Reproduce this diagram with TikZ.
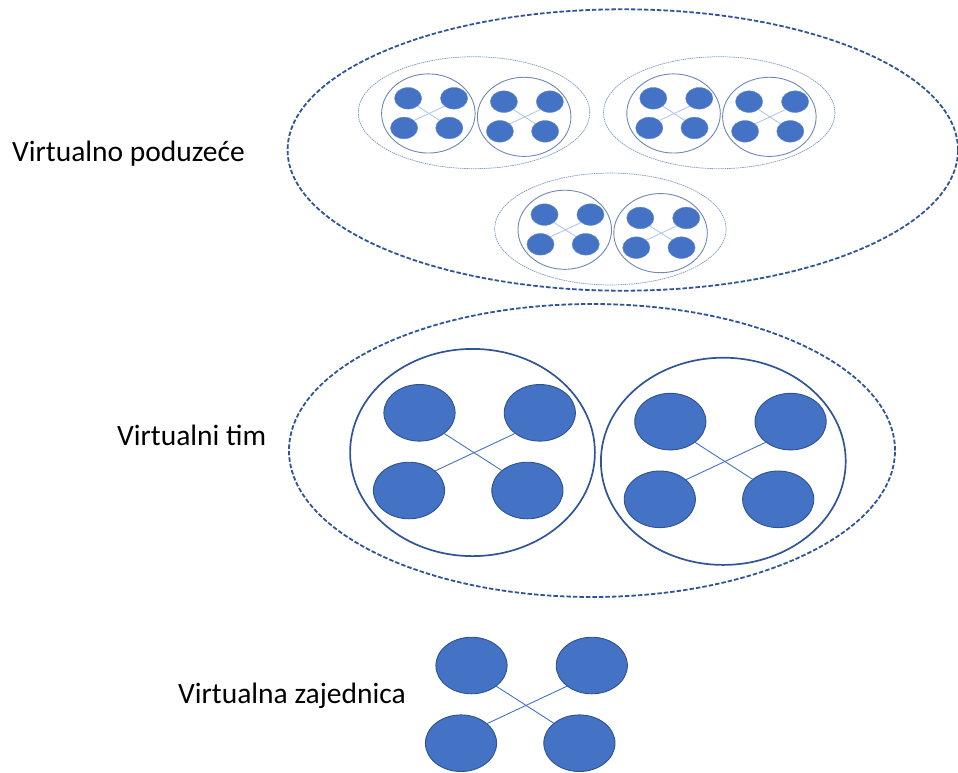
\documentclass[tikz,border=0pt]{standalone}
\usepackage{fontspec}
\setmainfont{Carlito}
\usetikzlibrary{shapes.geometric}
\definecolor{vblue}{HTML}{4472C4}
\definecolor{vedge}{HTML}{2F528F}
\definecolor{vdark}{HTML}{2F5597}
\definecolor{vlight}{HTML}{B4C7E7}
\tikzset{
  member/.style={ellipse, inner sep=0pt, outer sep=0pt, minimum width=71.2pt, minimum height=56.6pt,
    fill=vblue, draw=vedge, line width=0.9pt},
  link/.style={draw=vblue, line width=0.9pt},
  teamc/.style={ellipse, inner sep=0pt, outer sep=0pt, minimum width=244.8pt, minimum height=207.2pt,
    draw=vdark, line width=1.7pt},
  grpell/.style={ellipse, inner sep=0pt, outer sep=0pt, minimum width=606pt, minimum height=293pt,
    draw=vdark, line width=1.8pt, dash pattern=on 4.5pt off 2pt},
  entell/.style={ellipse, inner sep=0pt, outer sep=0pt, minimum width=670.4pt, minimum height=281.4pt,
    draw=vdark, line width=1.8pt, dash pattern=on 4.5pt off 2pt},
  label/.style={anchor=base west, inner sep=0pt, font=\fontsize{29.5}{35}\selectfont, text=black},
  small/.style={scale=0.382, transform shape,
    member/.append style={draw=vblue!80!white, line width=0.4pt},
    link/.append style={draw=vlight, line width=0.9pt},
    teamc/.append style={draw=vdark!70, line width=0.9pt},
    grpell/.append style={draw=vdark!60, line width=0.7pt, dash pattern=on 1.5pt off 0.7pt}},
}
\newcommand\vmembers[1]{%
  \node[member] (#1ul) at (-53,-39.7) {};
  \node[member] (#1ur) at (67.3,-39.7) {};
  \node[member] (#1ll) at (-63.5,38) {};
  \node[member] (#1lr) at (54.9,38) {};
  \draw[link] (#1ul.-40) -- (#1lr.142);
  \draw[link] (#1ur.220) -- (#1ll.37);
}
\newcommand\vteam[1]{%
  \node[teamc] (#1c) at (0,0) {};
  \vmembers{#1}
}
\newcommand\vgroup[1]{%
  \node[grpell] (#1e) at (0,0) {};
  \begin{scope}[shift={(-119.5,2)}]\vteam{#1a}\end{scope}
  \begin{scope}[shift={(131.3,10.8)}]\vteam{#1b}\end{scope}
}
\begin{document}
\begin{tikzpicture}[x=1pt, y=-1pt]
  \useasboundingbox (0,0) rectangle (958,772);
  % enterprise
  \node[entell] (ent) at (622.8,150) {};
  \begin{scope}[shift={(474,112.7)}, small]\vgroup{ga}\end{scope}
  \begin{scope}[shift={(719.2,112.7)}, small]\vgroup{gb}\end{scope}
  \begin{scope}[shift={(610.4,229)}, small]\vgroup{gc}\end{scope}
  % team
  \begin{scope}[shift={(592,450.5)}]\vgroup{t}\end{scope}
  % community
  \begin{scope}[shift={(524.5,705.2)}]\vmembers{c}\end{scope}
  % labels
  \node[label] (lent) at (12,161) {Virtualno poduzeće};
  \node[label] (lteam) at (117,445) {Virtualni tim};
  \node[label] (lcom) at (178,703) {Virtualna zajednica};
\end{tikzpicture}
\end{document}
